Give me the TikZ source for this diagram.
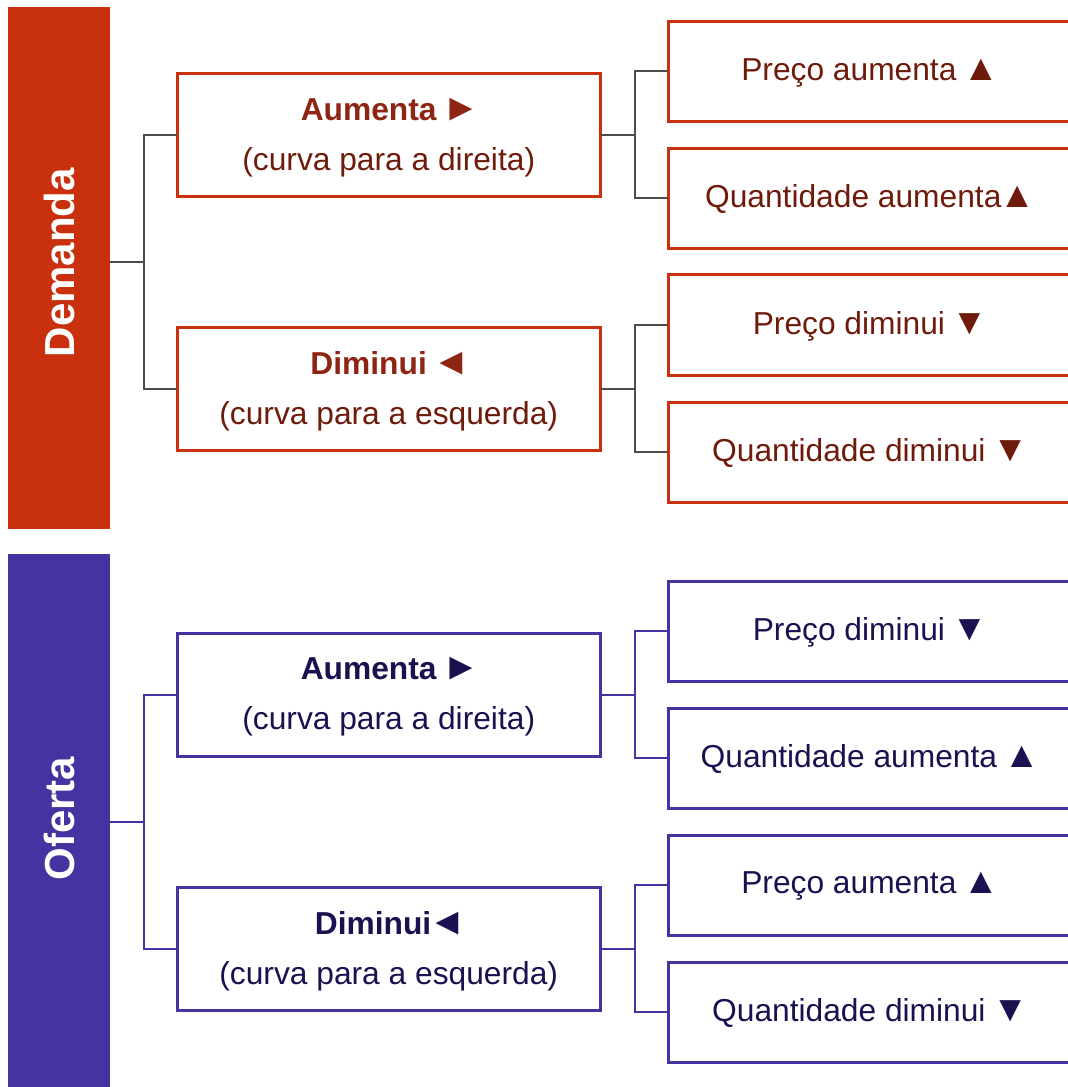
\documentclass[tikz,border=0pt]{standalone}
\usepackage{fontspec}
\usepackage{graphicx}
\setmainfont{Liberation Sans}
\usetikzlibrary{calc}
\definecolor{dred}{HTML}{C8300E}
\definecolor{dredtxt}{HTML}{6E1B0B}
\definecolor{dredbold}{HTML}{8E2412}
\definecolor{dgrey}{HTML}{4D4D4D}
\definecolor{opur}{HTML}{4433A0}
\definecolor{opurtxt}{HTML}{1B1050}
\newcommand\pxu{0.75pt}
\newcommand\bigtri[2][1.15]{\sbox0{#2}\makebox[\wd0][c]{\scalebox{#1}{#2}}}
\begin{document}
\begin{tikzpicture}[x=0.75pt,y=-0.75pt,
  txt/.style={font=\fontsize{23.8}{37.5}\selectfont},
  barbox/.style={rectangle,inner sep=0pt,outer sep=0pt,minimum width=102*\pxu},
  bartxt/.style={rotate=90,text=white,font=\fontsize{31.5}{36}\selectfont\bfseries},
  midbox/.style={rectangle,draw,line width=3*\pxu,inner sep=0pt,outer sep=0pt,
    minimum width=423.5*\pxu,minimum height=123*\pxu},
  rbox/.style={rectangle,draw,line width=3*\pxu,inner sep=0pt,outer sep=0pt,
    minimum width=402*\pxu,minimum height=100*\pxu},
  btxt/.style={align=center,txt,inner sep=0pt},
  dstyle/.style={draw=dred},
  ostyle/.style={draw=opur},
  dconn/.style={draw=dgrey,line width=2*\pxu},
  oconn/.style={draw=opur,line width=2*\pxu}]
\useasboundingbox (0,0) rectangle (1067,1087);
% bars
\node[barbox,fill=dred,minimum height=522*\pxu] (dem) at (59,268) {};
\node[bartxt] (demt) at (59,262.5) {Demanda};
\node[barbox,fill=opur,minimum height=540*\pxu] (ofe) at (59,824) {};
\node[bartxt] (ofet) at (59,818.5) {Oferta};
% demand middle boxes
\node[midbox,dstyle] (dA) at (388.75,135) {};
\node[btxt,text=dredtxt] (dAt) at ($(dA.center)+(0,2.5)$) {\textcolor{dredbold}{\bfseries Aumenta \bigtri[1.2]{►}}\\(curva para a direita)};
\node[midbox,dstyle] (dD) at (388.75,388.5) {};
\node[btxt,text=dredtxt] (dDt) at ($(dD.center)+(0,2.5)$) {\textcolor{dredbold}{\bfseries Diminui \bigtri[1.2]{◄}}\\(curva para a esquerda)};
% demand right boxes
\node[rbox,dstyle] (d1) at (869,71.5) {};
\node[btxt,text=dredtxt] (d1t) at ($(d1.center)+(0,1)$) {Preço aumenta \bigtri{▲}};
\node[rbox,dstyle] (d2) at (869,198.3) {};
\node[btxt,text=dredtxt] (d2t) at ($(d2.center)+(0,1)$) {Quantidade aumenta\bigtri{▲}};
\node[rbox,dstyle] (d3) at (869,325) {};
\node[btxt,text=dredtxt] (d3t) at ($(d3.center)+(0,1)$) {Preço diminui \bigtri{▼}};
\node[rbox,dstyle] (d4) at (869,452) {};
\node[btxt,text=dredtxt] (d4t) at ($(d4.center)+(0,1)$) {Quantidade diminui \bigtri{▼}};
% supply middle boxes
\node[midbox,ostyle] (oA) at (388.75,694.5) {};
\node[btxt,text=opurtxt] (oAt) at ($(oA.center)+(0,2.5)$) {{\bfseries Aumenta \bigtri[1.2]{►}}\\(curva para a direita)};
\node[midbox,ostyle] (oD) at (388.75,948.5) {};
\node[btxt,text=opurtxt] (oDt) at ($(oD.center)+(0,2.5)$) {{\bfseries Diminui\bigtri[1.2]{◄}}\\(curva para a esquerda)};
% supply right boxes
\node[rbox,ostyle] (o1) at (869,631.3) {};
\node[btxt,text=opurtxt] (o1t) at ($(o1.center)+(0,1)$) {Preço diminui \bigtri{▼}};
\node[rbox,ostyle] (o2) at (869,758) {};
\node[btxt,text=opurtxt] (o2t) at ($(o2.center)+(0,1)$) {Quantidade aumenta \bigtri{▲}};
\node[rbox,ostyle] (o3) at (869,885) {};
\node[btxt,text=opurtxt] (o3t) at ($(o3.center)+(0,1)$) {Preço aumenta \bigtri{▲}};
\node[rbox,ostyle] (o4) at (869,1012) {};
\node[btxt,text=opurtxt] (o4t) at ($(o4.center)+(0,1)$) {Quantidade diminui \bigtri{▼}};
% demand connectors
\coordinate (dJ) at ($(dA.west)!0.5!(dD.west)+(-33.5,0)$);
\draw[dconn] (dem.east |- dJ) -- (dJ);
\draw[dconn] (dA.west) -| (dJ) |- (dD.west);
\coordinate (dAJ) at ($(dA.east)+(34,0)$);
\draw[dconn] (dA.east) -- (dAJ);
\draw[dconn] (d1.west) -| (dAJ) |- (d2.west);
\coordinate (dDJ) at ($(dD.east)+(34,0)$);
\draw[dconn] (dD.east) -- (dDJ);
\draw[dconn] (d3.west) -| (dDJ) |- (d4.west);
% supply connectors
\coordinate (oJ) at ($(oA.west)!0.5!(oD.west)+(-33.5,0)$);
\draw[oconn] (ofe.east |- oJ) -- (oJ);
\draw[oconn] (oA.west) -| (oJ) |- (oD.west);
\coordinate (oAJ) at ($(oA.east)+(34,0)$);
\draw[oconn] (oA.east) -- (oAJ);
\draw[oconn] (o1.west) -| (oAJ) |- (o2.west);
\coordinate (oDJ) at ($(oD.east)+(34,0)$);
\draw[oconn] (oD.east) -- (oDJ);
\draw[oconn] (o3.west) -| (oDJ) |- (o4.west);
\end{tikzpicture}
\end{document}
